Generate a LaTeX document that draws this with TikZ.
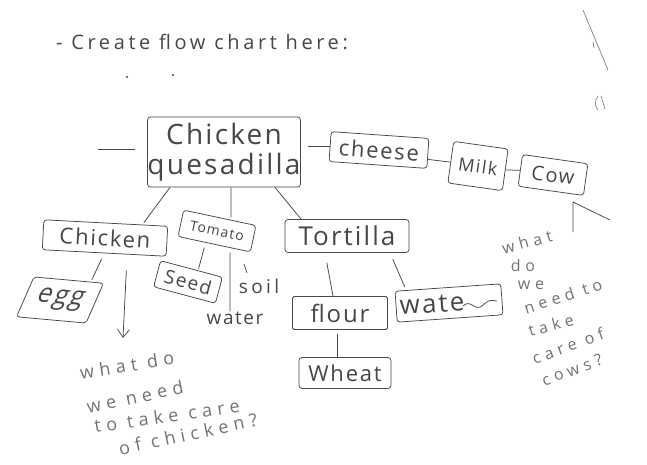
\documentclass[tikz,border=0pt]{standalone}
\usepackage{fontspec}
\setmainfont{Open Sans}
\newfontfamily\handfont{Open Sans}[LetterSpace=8]
\newfontfamily\handnote{Open Sans}[LetterSpace=30]
\newfontfamily\handtitle{Open Sans}[LetterSpace=18]
\usetikzlibrary{arrows.meta}
\definecolor{inkc}{gray}{0.28}
\definecolor{notec}{gray}{0.45}
\begin{document}
\begin{tikzpicture}[x=1pt,y=1pt,
  box/.style={draw=inkc, line width=0.75pt, rounded corners=3pt, inner sep=0pt, text=inkc, align=center},
  fsz/.style={font=\handfont\fontsize{#1}{30}\selectfont},
  conn/.style={draw=inkc, line width=0.75pt},
  pale/.style={draw=notec, line width=0.6pt},
  note/.style={text=notec, inner sep=0pt, font=\handnote\fontsize{18}{20}\selectfont},
  cnote/.style={text=notec, inner sep=0pt, font=\handnote\fontsize{16}{18}\selectfont},
  plain/.style={text=inkc, inner sep=0pt}]
\useasboundingbox[fill=white] (0,0) rectangle (647,-464);

% title
\node[plain, font=\handtitle\fontsize{20}{22}\selectfont] (title) at (202,-42) {- Create flow chart here:};
\fill[inkc] (127,-77) circle (1.1);
\fill[inkc] (173,-75) circle (1.1);

% top-right marks
\draw[pale] (583,-10) -- (608,-70);
\draw[pale] (593,-42) -- (594,-48);
\draw[pale] (598,-96) .. controls (594,-101) and (595,-107) .. (598,-110);
\draw[pale] (601,-96) -- (605,-109);

% boxes
\node[box, fsz=28, minimum width=148, minimum height=70] (main) at (224,-152) {Chicken\\quesadilla};
\node[box, fsz=22, minimum width=98, minimum height=30, rotate=-4] (cheese) at (379,-150) {cheese};
\node[box, fsz=18, minimum width=55, minimum height=42, rotate=-8] (milk) at (478,-166) {Milk};
\node[box, fsz=20, minimum width=66, minimum height=32, rotate=-8] (cow) at (553,-175) {Cow};
\node[box, fsz=22, minimum width=124, minimum height=30, rotate=-3] (chk) at (105,-238) {Chicken};
\node[box, fsz=14, minimum width=74, minimum height=27, rotate=-12] (tomato) at (217,-231) {Tomato};
\node[box, fsz=19, minimum width=64, minimum height=27, rotate=-15] (seed) at (188,-282) {Seed};
\node[box, fsz=26, minimum width=72, minimum height=40, xslant=0.35, rotate=-5] (egg) at (60,-300) {egg};
\node[box, fsz=26, minimum width=124, minimum height=33] (tortilla) at (347,-236) {Tortilla};
\node[box, fsz=24, minimum width=95, minimum height=33, rounded corners=1.5pt] (flour) at (340,-313) {flour};
\node[box, fsz=26, minimum width=106, minimum height=31, rotate=4] (water) at (449,-303) {wate\hspace*{34pt}};
\node[box, fsz=22, minimum width=92, minimum height=31] (wheat) at (345,-373) {Wheat};

% squiggle ending "water"
\draw[conn] ([xshift=14pt,yshift=-3pt]water.center) .. controls +(8,8) and +(-8,-8) .. +(20,1)
  .. controls +(6,5) .. +(34,5);

% free labels
\node[plain, font=\handtitle\fontsize{19}{20}\selectfont] (soil) at (259,-286) {soil};
\node[plain, font=\handfont\fontsize{19}{20}\selectfont] (waterT) at (235,-318) {water};
\draw[conn] ([xshift=-15pt,yshift=22pt]soil.center) -- ++(3,-9);

% connectors
\coordinate (stub) at (98,-149);
\draw[conn, shorten >=12pt] (stub) -- (main.west |- stub);
\draw[conn, shorten <=7pt] (main.east |- cheese.west) -- (cheese.west);
\draw[conn] ([yshift=-6pt]cheese.east) -- (milk.west);
\draw[conn] (milk.east) -- (cow.west);
\draw[conn] ([xshift=-54pt]main.south) -- ([xshift=38pt]chk.north);
\draw[conn] ([xshift=7pt]main.south) -- ([xshift=11pt]tomato.north);
\draw[conn] ([xshift=51pt]main.south) -- ([xshift=-46pt]tortilla.north);
\draw[conn, shorten <=6pt] (chk.south) -- ([xshift=23pt]egg.north);
\coordinate (qtip) at (123,-338);
\draw[conn, shorten <=17pt, -{Straight Barb[length=8pt,width=12pt]}] ([xshift=23pt]chk.south) -- (qtip);
\draw[conn, shorten <=3pt] ([xshift=-9pt]tomato.south) -- ([xshift=7pt]seed.north);
\draw[conn, shorten <=8pt] ([xshift=16pt]tomato.south) -- ([xshift=-5pt]waterT.north);
\draw[conn, shorten <=10pt] ([xshift=-22pt]tortilla.south) -- ([xshift=-7pt]flour.north);
\draw[conn, shorten <=7pt] ([xshift=43pt]tortilla.south) -- ([xshift=-43pt]water.north);
\draw[conn, shorten <=4pt] ([xshift=-3pt]flour.south) -- ([xshift=-8pt]wheat.north);
\coordinate (cowtip) at (573,-202);
\coordinate (cowA) at (573,-232);
\coordinate (cowB) at (610,-220);
\draw[conn] (cowA) -- (cowtip) -- (cowB);

% question about chickens
\node[note, rotate=9] (q1) at (127,-365) {what do};
\node[note, rotate=12] (q2) at (135,-397) {we need};
\node[note, rotate=8] (q3) at (167,-416) {to take care};
\node[note, rotate=12] (q4) at (188,-434) {of chicken?};

% question about cows
\node[cnote, rotate=15] (c1) at (527,-242) {what};
\node[cnote] (c2) at (523,-265) {do};
\node[cnote] (c3) at (531,-285) {we};
\node[cnote, rotate=18] (c4) at (563,-296) {need to};
\node[cnote, rotate=15] (c5) at (551,-325) {take};
\node[cnote, rotate=20] (c6) at (568,-346) {care of};
\node[cnote, rotate=20] (c7) at (572,-370) {cows?};
\end{tikzpicture}
\end{document}
